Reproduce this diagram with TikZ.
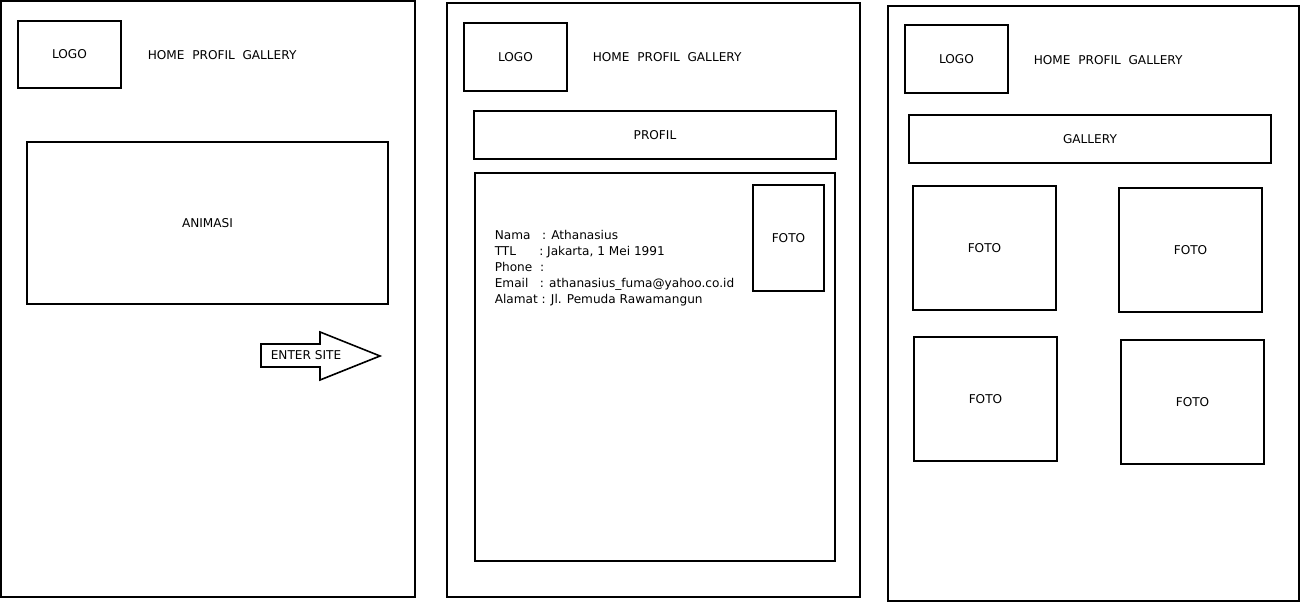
\documentclass[tikz,border=0pt]{standalone}
\usepackage{fontspec}
\setmainfont{DejaVu Sans}
\tikzset{>=latex}
\begin{document}
\begin{tikzpicture}[x=0.02cm,y=-0.02cm,line width=0.9pt,font=\fontsize{6.9}{9.1}\selectfont,
  box/.style={draw}]
\useasboundingbox (0,0) rectangle (1302,604);
% halaman home
\draw (1,1) rectangle (415,597);
\draw (18,21) rectangle (121,88) node[midway] (logoA) {LOGO};
\node[anchor=west,inner sep=0pt] (navA) at (147,55) {HOME\ \ PROFIL\ \ GALLERY};
\draw (27,142) rectangle (388,304) node[midway] (animasi) {ANIMASI};
\draw (261,344) -- (320,344) -- (320,332) -- (380,356) -- (320,380) -- (320,367) -- (261,367) -- cycle;
\node[anchor=west,inner sep=0pt] (enter) at (270,355) {ENTER SITE};
% halaman profil
\draw (447,3) rectangle (860,597);
\draw (464,23) rectangle (567,91) node[midway] (logoB) {LOGO};
\node[anchor=west,inner sep=0pt] (navB) at (592,57) {HOME\ \ PROFIL\ \ GALLERY};
\draw (474,111) rectangle (836,159) node[midway] (profil) {PROFIL};
\draw (475,173) rectangle (835,561);
\draw (753,185) rectangle (824,291) node[midway] (fotoP) {FOTO};
\node[anchor=north west,align=left,inner sep=0pt] (biodata) at (494,230) {%
Nama\ \ \ : Athanasius\\
TTL\ \ \ \ \ \ : Jakarta, 1 Mei 1991\\
Phone\ \ :\\
Email\ \ \ : athanasius\_fuma@yahoo.co.id\\
Alamat : Jl. Pemuda Rawamangun};
% halaman gallery
\draw (888,6) rectangle (1299,601);
\draw (905,25) rectangle (1008,93) node[midway] (logoC) {LOGO};
\node[anchor=west,inner sep=0pt] (navC) at (1033,60) {HOME\ \ PROFIL\ \ GALLERY};
\draw (909,115) rectangle (1271,163) node[midway] (gallery) {GALLERY};
\foreach \x/\y/\n in {913/186/1,1119/188/2,914/337/3,1121/340/4}
  \draw (\x,\y) rectangle ++(143,124) node[midway] (foto\n) {FOTO};
\end{tikzpicture}
\end{document}
